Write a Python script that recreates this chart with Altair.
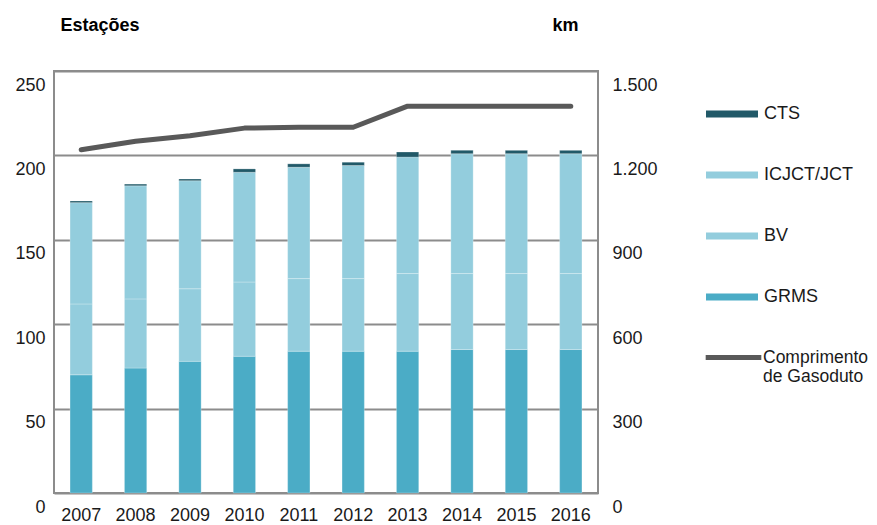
import altair as alt
import pandas as pd

years = ["2007", "2008", "2009", "2010", "2011", "2012", "2013", "2014", "2015", "2016"]
grms = [70, 74, 78, 81, 84, 84, 84, 85, 85, 85]
bv = [42, 41, 43, 44, 43, 43, 46, 45, 45, 45]
icjct = [60, 67, 64, 65, 66, 67, 69, 71, 71, 71]
cts = [1, 1, 1, 2, 2, 2, 3, 2, 2, 2]
km = [1220, 1250, 1270, 1297, 1300, 1300, 1375, 1375, 1375, 1375]

series_names = ["CTS", "ICJCT/JCT", "BV", "GRMS"]
series_colors = ["#215968", "#93cddd", "#93cddd", "#4bacc6"]
stack_rank = {"GRMS": 1, "BV": 2, "ICJCT/JCT": 3, "CTS": 4}
left_ticks = [0, 50, 100, 150, 200, 250]
right_ticks = [0, 300, 600, 900, 1200, 1500]

rows = []
for i, yr in enumerate(years):
    for name, vals in (("GRMS", grms), ("BV", bv), ("ICJCT/JCT", icjct), ("CTS", cts)):
        rows.append({"ano": yr, "serie": name, "valor": vals[i], "ordem": stack_rank[name]})
bars_df = pd.DataFrame(rows)
line_df = pd.DataFrame({"ano": years, "km": km, "linha": ["Comprimento de Gasoduto"] * len(years)})

FONT = "Liberation Sans"

x_enc = alt.X(
    "ano:N", sort=years,
    scale=alt.Scale(paddingInner=0.59),
    axis=alt.Axis(title=None, labelAngle=0, ticks=False, tickSize=0, domain=False,
                  labelPadding=13, labelFontSize=18, grid=False),
)

bars = alt.Chart(bars_df).mark_bar(stroke="#ffffff", strokeOpacity=0.25, strokeWidth=1).encode(
    x=x_enc,
    y=alt.Y(
        "valor:Q", stack="zero",
        scale=alt.Scale(domain=[0, 250], nice=False),
        axis=alt.Axis(values=left_ticks, title="Estações", titleAngle=0, titleX=6, titleY=-46,
                      titleAlign="left", titleBaseline="middle", titleFontWeight="bold",
                      titleFontSize=18, grid=True, gridColor="#8c8c8c", gridWidth=2,
                      domain=False, ticks=False, tickSize=0, labelPadding=9, labelOffset=14,
                      labelFontSize=18),
    ),
    color=alt.Color(
        "serie:N",
        scale=alt.Scale(domain=series_names, range=series_colors),
        legend=alt.Legend(title=None, orient="none", legendX=652, legendY=17,
                          symbolType="M-1,-0.135L1,-0.135L1,0.135L-1,0.135Z",
                          symbolSize=2704, rowPadding=26, labelOffset=6, labelFontSize=18,
                          padding=0, symbolStrokeWidth=0, symbolOpacity=1),
    ),
    order=alt.Order("ordem:Q", sort="ascending"),
)

line = alt.Chart(line_df).mark_line(strokeWidth=5, strokeCap="round", strokeJoin="round").encode(
    x=alt.X("ano:N", sort=years),
    y=alt.Y(
        "km:Q",
        scale=alt.Scale(domain=[0, 1500], nice=False),
        axis=alt.Axis(orient="right", values=right_ticks,
                      labelExpr="replace(format(datum.value, ','), ',', '.')",
                      title="km", titleAngle=0, titleX=-46, titleY=-46, titleAlign="left",
                      titleBaseline="middle", titleFontWeight="bold", titleFontSize=18,
                      grid=False, domain=False, ticks=False, tickSize=0, labelPadding=14,
                      labelOffset=14, labelFontSize=18),
    ),
    stroke=alt.Stroke(
        "linha:N",
        scale=alt.Scale(range=["#595959"]),
        legend=alt.Legend(title=None, orient="none", legendX=651, legendY=258,
                          symbolType="M-1.07,0L1.07,0", symbolSize=2704, symbolStrokeWidth=5,
                          labelExpr="['Comprimento', 'de Gasoduto']", labelOffset=1,
                          labelFontSize=17.5, padding=0),
    ),
)

chart = (
    alt.layer(bars, line)
    .resolve_scale(y="independent")
    .properties(
        width=544, height=422,
        autosize=alt.AutoSizeParams(type="none"),
        padding={"left": 46, "top": 63, "right": 271, "bottom": 32},
    )
    .configure_view(stroke="#8c8c8c", strokeWidth=2)
    .configure_axis(labelFont=FONT, titleFont=FONT, labelColor="#1a1a1a", titleColor="#000000")
    .configure_legend(labelFont=FONT, labelColor="#1a1a1a")
)

chart.save("out.html", embed_options={"renderer": "svg", "actions": False})
